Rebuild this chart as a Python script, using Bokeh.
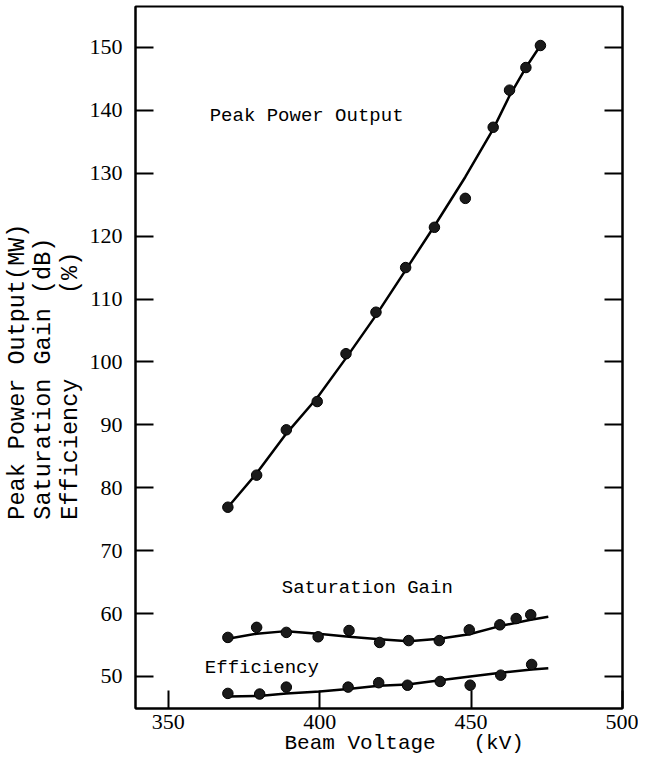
from bokeh.plotting import figure
from bokeh.models import LinearAxis, FixedTicker, Range1d, Label
from bokeh.embed import file_html
from bokeh.resources import INLINE

# ---- data ----
x_ticks = [350, 400, 450, 500]
y_ticks = [50, 60, 70, 80, 90, 100, 110, 120, 130, 140, 150]

# Peak Power Output (MW)
pp_x = [369.7, 379.2, 389.0, 399.2, 408.7, 418.6, 428.4, 437.9, 448.1, 457.3, 462.7, 468.1, 472.9]
pp_y = [76.9, 82.0, 89.2, 93.7, 101.3, 107.9, 115.0, 121.4, 126.0, 137.3, 143.2, 146.8, 150.3]
pp_fit_x = [369.7, 379.2, 389.0, 399.2, 408.7, 418.6, 428.4, 437.9, 448.1, 457.3, 462.7, 468.1, 472.9]
pp_fit_y = [76.9, 82.3, 88.6, 94.3, 100.6, 107.4, 114.6, 121.6, 129.4, 137.0, 142.3, 146.8, 150.3]

# Saturation Gain (dB)
sg_x = [369.7, 379.2, 389.0, 399.5, 409.7, 419.8, 429.4, 439.5, 449.4, 459.5, 464.9, 469.7]
sg_y = [56.2, 57.8, 57.0, 56.3, 57.3, 55.4, 55.7, 55.7, 57.4, 58.2, 59.2, 59.8]
sg_fit_x = [369.7, 379.2, 389.0, 399.5, 409.7, 419.8, 429.4, 439.5, 449.4, 459.5, 469.7, 475.5]
sg_fit_y = [56.0, 56.8, 57.2, 56.8, 56.3, 55.9, 55.6, 56.0, 56.7, 58.0, 59.0, 59.5]

# Efficiency (%)
ef_x = [369.7, 380.2, 389.0, 409.4, 419.5, 429.0, 439.8, 449.7, 459.8, 470.0]
ef_y = [47.3, 47.2, 48.3, 48.3, 49.0, 48.6, 49.2, 48.6, 50.2, 51.9]
ef_fit_x = [369.7, 380.0, 389.0, 400.0, 409.4, 419.5, 429.0, 439.8, 449.7, 459.8, 470.0, 475.5]
ef_fit_y = [46.8, 46.9, 47.3, 47.6, 48.0, 48.5, 48.7, 49.4, 50.0, 50.6, 51.1, 51.3]

NB = "\u00a0"
x_label = NB * 4 + "Beam" + NB + "Voltage" + NB * 3 + "(kV)"
y_lines = [
    "Peak Power Output(MW)",
    "Saturation Gain (dB)",
    "Efficiency      (%)",
]
y_label = "\n".join((ln.ljust(21) + "  ").replace(" ", NB) for ln in y_lines)

MONO = "Liberation Mono"
SERIF = "Liberation Serif"

p = figure(width=638, height=758,
           x_range=Range1d(339.2, 500), y_range=Range1d(44.9, 156.5),
           output_backend="svg", toolbar_location=None,
           min_border_left=120, min_border_right=16,
           min_border_top=6, min_border_bottom=50)

p.background_fill_color = "white"
p.border_fill_color = "white"
p.xgrid.visible = False
p.ygrid.visible = False
p.outline_line_color = "black"
p.outline_line_width = 2

# bottom axis
xa = p.xaxis[0]
xa.ticker = FixedTicker(ticks=x_ticks)
xa.major_tick_in = 18
xa.major_tick_out = 0
xa.minor_tick_in = 0
xa.minor_tick_out = 0
xa.axis_line_width = 2
xa.major_tick_line_width = 2
xa.major_label_text_font = SERIF
xa.major_label_text_font_size = "22px"
xa.major_label_text_color = "black"
xa.major_label_standoff = 6
xa.axis_label = x_label
xa.axis_label_text_font = MONO
xa.axis_label_text_font_size = "21px"
xa.axis_label_text_font_style = "normal"
xa.axis_label_text_color = "black"
xa.axis_label_standoff = 0

# left axis
ya = p.yaxis[0]
ya.ticker = FixedTicker(ticks=y_ticks)
ya.major_tick_in = 18
ya.major_tick_out = 0
ya.minor_tick_in = 0
ya.minor_tick_out = 0
ya.axis_line_width = 2
ya.major_tick_line_width = 2
ya.major_label_text_font = SERIF
ya.major_label_text_font_size = "22px"
ya.major_label_text_color = "black"
ya.major_label_standoff = 13
ya.axis_label = y_label
ya.axis_label_text_font = MONO
ya.axis_label_text_font_size = "23.5px"
ya.axis_label_text_font_style = "normal"
ya.axis_label_text_color = "black"
ya.axis_label_text_line_height = 0.98
ya.axis_label_standoff = 3

# right axis: ticks only
ra = LinearAxis(ticker=FixedTicker(ticks=y_ticks))
ra.major_tick_in = 18
ra.major_tick_out = 0
ra.minor_tick_in = 0
ra.minor_tick_out = 0
ra.axis_line_width = 2
ra.major_tick_line_width = 2
ra.major_label_overrides = {t: "" for t in y_ticks}
ra.major_label_standoff = 0
p.add_layout(ra, "right")

LW = 2.5
MS = 10.5
for fx, fy, dx, dy in [(pp_fit_x, pp_fit_y, pp_x, pp_y),
                       (sg_fit_x, sg_fit_y, sg_x, sg_y),
                       (ef_fit_x, ef_fit_y, ef_x, ef_y)]:
    p.line(fx, fy, line_color="black", line_width=LW)
    p.scatter(dx, dy, marker="circle", size=MS, fill_color="#1a1a1a",
              line_color="black", line_width=1)

for txt, lx, ly in [("Peak Power Output", 363.7, 139.1),
                    ("Saturation Gain", 387.5, 64.1),
                    ("Efficiency", 362.1, 51.4)]:
    p.add_layout(Label(x=lx, y=ly, text=txt, text_font=MONO,
                       text_font_size="19px", text_color="black",
                       text_align="left", text_baseline="middle"))

open("out.html", "w").write(file_html(p, INLINE))
